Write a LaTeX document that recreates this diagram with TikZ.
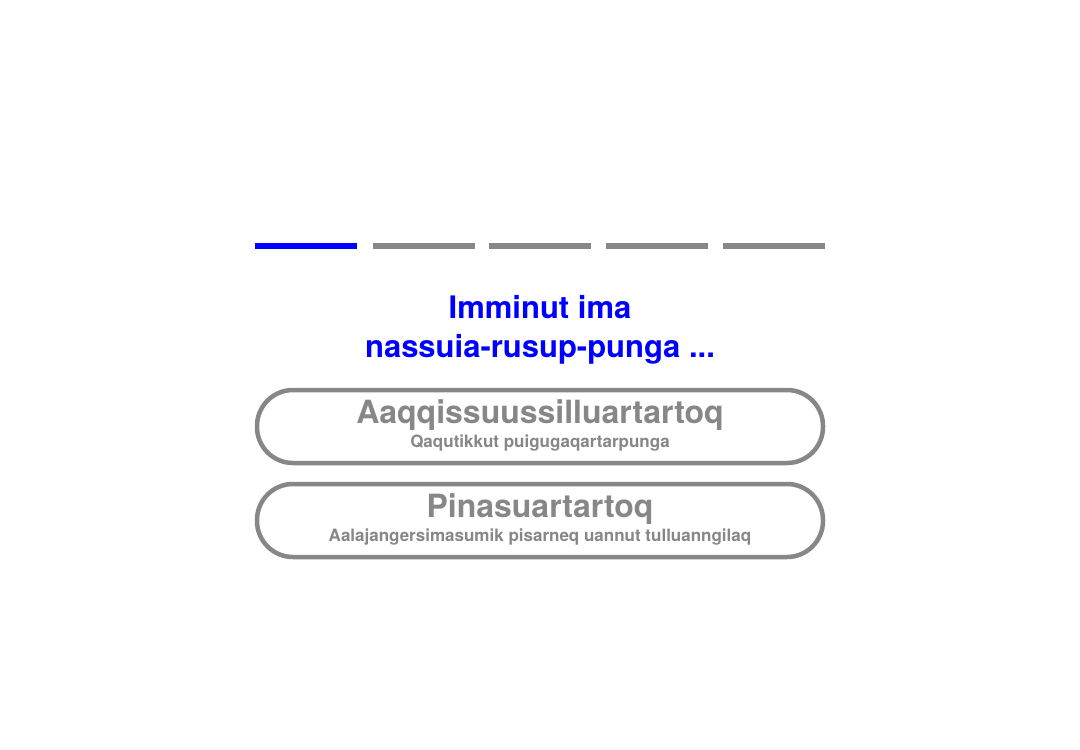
\documentclass[tikz,border=0pt]{standalone}
\usepackage{fontspec}
\setmainfont{TeX Gyre Heros}
\definecolor{gr}{HTML}{878787}
\definecolor{bl}{HTML}{0000FF}
\begin{document}
\begin{tikzpicture}[x=1pt,y=-1pt,
  seg/.style={line width=6pt,gr},
  pill/.style={draw=gr,line width=4.5pt,rounded corners=36pt,minimum width=566pt,minimum height=73pt},
  ttl/.style={font=\bfseries\fontsize{31}{36}\selectfont,text=bl,align=center},
  big/.style={font=\bfseries\fontsize{32}{36}\selectfont,text=gr},
  small/.style={font=\bfseries\fontsize{17}{20}\selectfont,text=gr}]
\useasboundingbox (0,0) rectangle (1080,750);
\coordinate (s1a) at (255,246); \coordinate (s1b) at (357,246);
\coordinate (s2a) at (373,246); \coordinate (s2b) at (475,246);
\coordinate (s3a) at (489,246); \coordinate (s3b) at (591,246);
\coordinate (s4a) at (606,246); \coordinate (s4b) at (708,246);
\coordinate (s5a) at (723,246); \coordinate (s5b) at (825,246);
\draw[seg,bl] (s1a) -- (s1b);
\draw[seg] (s2a) -- (s2b);
\draw[seg] (s3a) -- (s3b);
\draw[seg] (s4a) -- (s4b);
\draw[seg] (s5a) -- (s5b);
\node[ttl] (t1) at (540,307) {Imminut ima};
\node[ttl] (t2) at (540,349) {nassuia-rusup-punga ...};
\node[pill] (p1) at (540,426.5) {};
\node[big] (p1a) at (540,415) {Aaqqissuussilluartartoq};
\node[small] (p1b) at (540,443) {Qaqutikkut puigugaqartarpunga};
\node[pill] (p2) at (540,520.5) {};
\node[big] (p2a) at (540,509) {Pinasuartartoq};
\node[small] (p2b) at (540,537) {Aalajangersimasumik pisarneq uannut tulluanngilaq};
\end{tikzpicture}
\end{document}
